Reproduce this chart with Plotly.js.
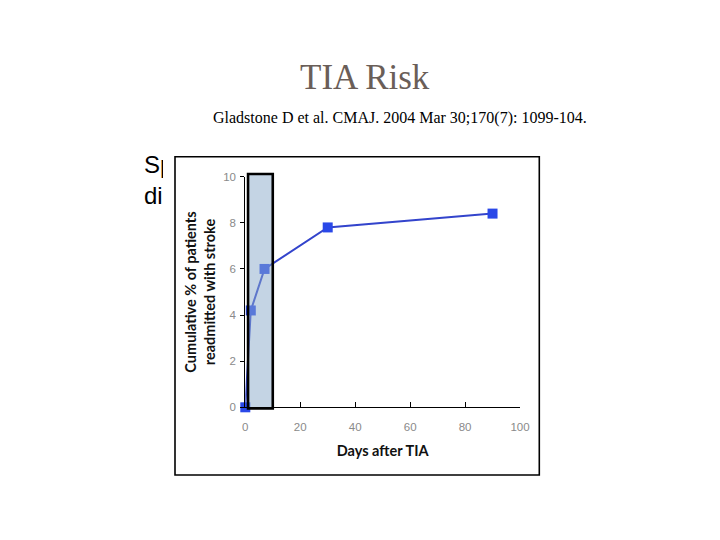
<!DOCTYPE html>
<html>
<head>
<meta charset="utf-8">
<script src="https://cdn.plot.ly/plotly-3.0.1.min.js"></script>
<style>
  html, body { margin: 0; padding: 0; background: #ffffff; }
  #chart { width: 720px; height: 540px; }
</style>
</head>
<body>
<div id="chart"></div>
<script>
// ---- data ----
const days = [0, 2, 7, 30, 90];
const cumulativePct = [0, 4.2, 6.0, 7.8, 8.4];
const xTickVals = [0, 20, 40, 60, 80, 100];
const yTickVals = [0, 2, 4, 6, 8, 10];
const windowDays = [1, 10];          // highlighted first-week window
const slideTitle = 'TIA Risk';
const citation = 'Gladstone D et al. CMAJ. 2004 Mar 30;170(7): 1099-104.';
const hiddenSlideText = ['Sp', 'di'];
const xTitle = 'Days after TIA';
const yTitle = 'Cumulative % of patients<br>readmitted with stroke';

// ---- page geometry helpers (pixels -> paper) ----
const W = 720, H = 540;
const px = v => v / W;
const py = v => 1 - v / H;

const plotX = [px(245.3), px(520)];
const plotY = [py(407.3), py(176.7)];

const traces = [
  // slide text partially hidden behind the chart picture
  {
    type: 'scatter', mode: 'text',
    x: [144, 144], y: [167, 198],
    text: hiddenSlideText,
    textposition: 'middle right',
    textfont: { family: 'Liberation Sans, Arial, sans-serif', size: 24, color: '#000000' },
    hoverinfo: 'skip', showlegend: false,
    xaxis: 'x', yaxis: 'y', cliponaxis: false
  },
  // empty trace for the white picture cover
  { type: 'scatter', x: [], y: [], xaxis: 'x2', yaxis: 'y2', showlegend: false, hoverinfo: 'skip' },
  // the data
  {
    type: 'scatter', mode: 'lines+markers',
    x: days, y: cumulativePct,
    line: { color: '#3344cc', width: 2 },
    marker: { symbol: 'square', size: 10, color: '#2a48e8' },
    xaxis: 'x3', yaxis: 'y3', cliponaxis: false,
    showlegend: false, hoverinfo: 'skip'
  }
];

const tickFont = { family: 'Liberation Sans, Arial, sans-serif', size: 11.5, color: '#8a8a8a' };
const titleFont = { family: 'Lato, Open Sans, sans-serif', size: 14.5, color: '#111111', weight: 'bold' };

const layout = {
  width: W, height: H,
  margin: { l: 0, r: 0, t: 0, b: 0 },
  paper_bgcolor: '#ffffff',
  plot_bgcolor: '#ffffff',
  showlegend: false,
  xaxis: { domain: [0, 1], range: [0, W], visible: false, anchor: 'y', fixedrange: true },
  yaxis: { domain: [0, 1], range: [H, 0], visible: false, anchor: 'x', fixedrange: true },
  xaxis2: { domain: [px(163), px(548)], range: [0, 1], visible: false, anchor: 'y2' },
  yaxis2: { domain: [py(482), py(150)], range: [0, 1], visible: false, anchor: 'x2' },
  xaxis3: {
    domain: plotX, range: [0, 100], anchor: 'y3',
    tickvals: xTickVals, ticks: 'inside', ticklen: 5, tickcolor: '#000000', tickwidth: 1,
    ticklabelstandoff: 9,
    showline: true, linecolor: '#000000', linewidth: 1,
    showgrid: false, zeroline: false, tickfont: tickFont,
    title: { text: xTitle, font: titleFont, standoff: 13 }
  },
  yaxis3: {
    domain: plotY, range: [0, 10], anchor: 'x3',
    tickvals: yTickVals, ticks: 'outside', ticklen: 4, tickcolor: '#000000', tickwidth: 1,
    ticklabelstandoff: 2,
    showline: true, linecolor: '#000000', linewidth: 1,
    showgrid: false, zeroline: false, tickfont: tickFont,
    title: { text: yTitle, font: titleFont, standoff: 4 }
  },
  shapes: [
    // picture frame
    {
      type: 'rect', xref: 'paper', yref: 'paper',
      x0: px(175), x1: px(539.3), y0: py(475), y1: py(156.7),
      line: { color: '#000000', width: 1.6 }, fillcolor: 'rgba(0,0,0,0)', layer: 'above'
    },
    // highlighted window (spans the full value axis)
    {
      type: 'rect', xref: 'x3', yref: 'paper',
      x0: windowDays[0], x1: windowDays[1], y0: plotY[0] - 0.002, y1: plotY[1] + 0.005,
      line: { color: '#000000', width: 2.6 }, fillcolor: 'rgba(137,169,201,0.5)', layer: 'above'
    }
  ],
  annotations: [
    {
      xref: 'paper', yref: 'paper', x: px(365), y: py(77),
      text: slideTitle, showarrow: false, xanchor: 'center', yanchor: 'middle',
      font: { family: 'Liberation Serif, Times New Roman, serif', size: 35, color: '#6a5e58' }
    },
    {
      xref: 'paper', yref: 'paper', x: px(400), y: py(118),
      text: citation, showarrow: false, xanchor: 'center', yanchor: 'middle',
      font: { family: 'Liberation Serif, Times New Roman, serif', size: 16, color: '#000000' }
    }
  ]
};

Plotly.newPlot('chart', traces, layout, { staticPlot: true, displayModeBar: false });
</script>
</body>
</html>
